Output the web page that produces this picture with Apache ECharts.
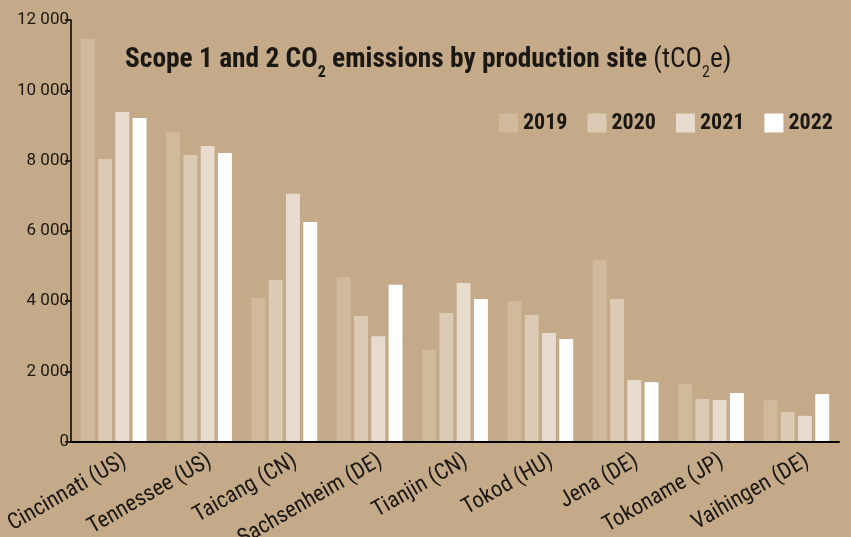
<!DOCTYPE html>
<html>
<head>
<meta charset="utf-8">
<script src="https://cdn.jsdelivr.net/npm/echarts@6/dist/echarts.min.js"></script>
<style>
  html, body { margin: 0; padding: 0; background: #C4AA88; }
  #chart { width: 851px; height: 537px; }
</style>
</head>
<body>
<div id="chart"></div>
<script>
// Production sites (x axis)
const sites = ['Cincinnati (US)', 'Tennessee (US)', 'Taicang (CN)', 'Sachsenheim (DE)', 'Tianjin (CN)', 'Tokod (HU)', 'Jena (DE)', 'Tokoname (JP)', 'Vaihingen (DE)'];
const years = ['2019', '2020', '2021', '2022'];

// Scope 1 and 2 emissions per site, tCO2e
const emissions2019 = [11460, 8810, 4090, 4680, 2610, 4000, 5170, 1640, 1180];
const emissions2020 = [8040, 8160, 4600, 3570, 3660, 3600, 4060, 1210, 840];
const emissions2021 = [9380, 8410, 7050, 3000, 4510, 3090, 1750, 1180, 730];
const emissions2022 = [9210, 8210, 6250, 4460, 4060, 2920, 1690, 1380, 1350];

// Value axis ticks
const yMin = 0, yMax = 12000, yStep = 2000;

// Condensed sans face (the width keyword goes into the canvas font string)
const FONT = 'Roboto, sans-serif';
const STRETCH = 'condensed';
const INK = '#1b1712';
const barColors = ['#D1B99B', '#DCCAB4', '#E7DCCE', '#FFFFFF'];
const seriesValues = [emissions2019, emissions2020, emissions2021, emissions2022];

// Plot area; the site names hang slightly to the right of each bar group
const plot = { left: 71, right: 12, top: 20, bottom: 95.5 };
const labelShift = 11;

const chart = echarts.init(document.getElementById('chart'), null, { renderer: 'canvas' });

const txt = (size, weight, extra) => Object.assign({
  fontFamily: FONT, fontStyle: STRETCH, fontWeight: weight, fontSize: size, color: INK
}, extra || {});

chart.setOption({
  backgroundColor: '#C4AA88',
  animation: false,
  textStyle: { fontFamily: FONT, fontStyle: STRETCH, color: INK },
  title: {
    left: 125,
    top: 42,
    padding: 0,
    text: '{b|Scope 1 and 2 CO}{bs|2}{b| emissions by production site }{r|(tCO}{rs|2}{r|e)}',
    textStyle: {
      rich: {
        b: txt(27.4, 'bold', { lineHeight: 32, verticalAlign: 'bottom' }),
        bs: txt(16, 'bold', { lineHeight: 16, verticalAlign: 'bottom', padding: [0, 0, -7, 0] }),
        r: txt(27.4, 'normal', { lineHeight: 32, verticalAlign: 'bottom' }),
        rs: txt(16, 'normal', { lineHeight: 16, verticalAlign: 'bottom', padding: [0, 0, -7, 0] })
      }
    }
  },
  legend: {
    left: 499,
    top: 112,
    width: 350,
    padding: 0,
    itemWidth: 19,
    itemHeight: 19,
    itemGap: 20,
    icon: 'rect',
    textStyle: txt(22, 'bold', { padding: [2, 0, 0, 0] }),
    data: years
  },
  grid: [
    Object.assign({ outerBoundsMode: 'none', containLabel: false }, plot),
    Object.assign({ outerBoundsMode: 'none', containLabel: false }, plot,
      { left: plot.left + labelShift, right: plot.right - labelShift })
  ],
  xAxis: [{
    type: 'category',
    gridIndex: 0,
    data: sites,
    z: 5,
    axisTick: { show: false },
    axisLine: { lineStyle: { color: '#000', width: 2 } },
    axisLabel: { show: false }
  }, {
    type: 'category',
    gridIndex: 1,
    data: sites,
    axisTick: { show: false },
    axisLine: { show: false },
    axisLabel: txt(22.5, 'normal', { rotate: 30, margin: 18, interval: 0 })
  }],
  yAxis: [{
    type: 'value',
    gridIndex: 0,
    min: yMin,
    max: yMax,
    interval: yStep,
    z: 5,
    splitLine: { show: false },
    axisLine: { show: true, lineStyle: { color: '#000', width: 1.5 } },
    axisTick: { show: true, length: 6, lineStyle: { color: '#000', width: 1.5 } },
    axisLabel: txt(17, 'normal', {
      fontStyle: 'normal',
      margin: 2,
      formatter: v => v === 0 ? '0' : String(v).replace(/\B(?=(\d{3})+(?!\d))/g, ' ')
    })
  }, {
    type: 'value',
    gridIndex: 1,
    min: yMin,
    max: yMax,
    show: false
  }],
  series: years.map((y, i) => ({
    name: y,
    type: 'bar',
    xAxisIndex: 0,
    yAxisIndex: 0,
    data: seriesValues[i],
    barGap: '24%',
    barCategoryGap: '23%',
    itemStyle: { color: barColors[i] }
  }))
});
</script>
</body>
</html>
